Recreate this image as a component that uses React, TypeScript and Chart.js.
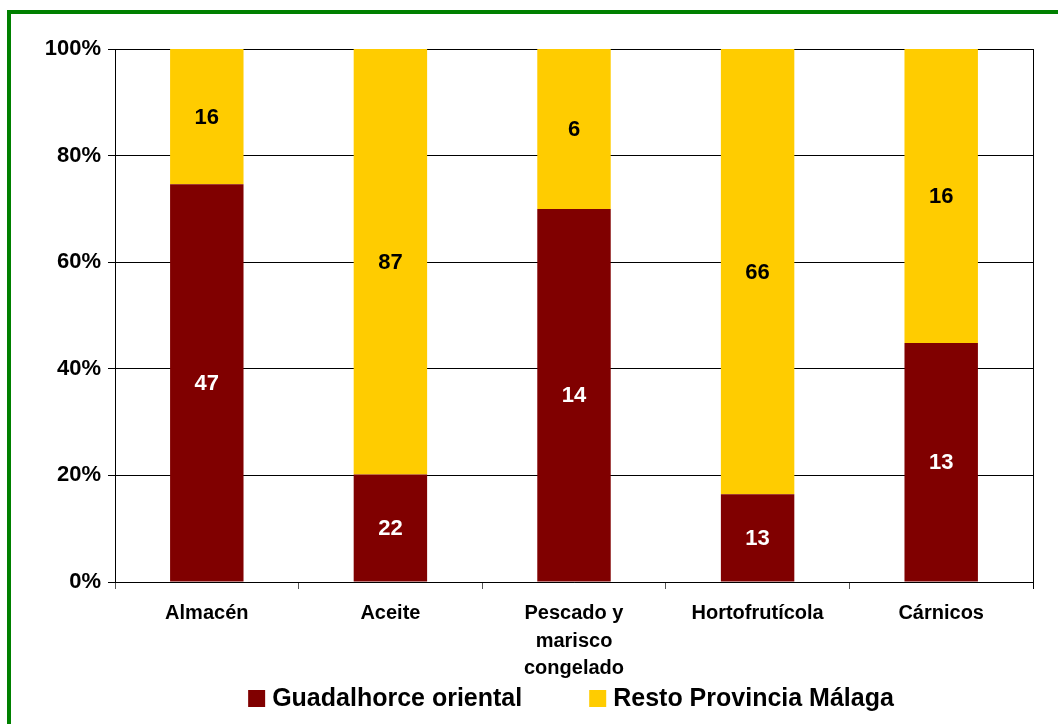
import React, { useEffect, useRef } from "react";
import { Chart, registerables } from "chart.js";
Chart.register(...registerables);

const categories: (string | string[])[] = [
  "Almacén",
  "Aceite",
  ["Pescado y", "marisco", "congelado"],
  "Hortofrutícola",
  "Cárnicos",
];
const guadalhorceOriental = [47, 22, 14, 13, 13];
const restoProvincia = [16, 87, 6, 66, 16];
const seriesNames = ["Guadalhorce oriental", "Resto Provincia Málaga"];
const seriesColors = ["#800000", "#FFCC00"];
const labelColors = ["#FFFFFF", "#000000"];
const yTickStep = 20;

const FONT = "'Liberation Sans', Arial, Helvetica, sans-serif";

const totals = guadalhorceOriental.map((v, i) => v + restoProvincia[i]);
const pct = (arr: number[]) => arr.map((v, i) => (v / totals[i]) * 100);

const valueLabelPlugin = {
  id: "valueLabels",
  afterDatasetsDraw(chart: any) {
    const ctx = chart.ctx;
    ctx.save();
    ctx.font = `bold 22px ${FONT}`;
    ctx.textAlign = "center";
    ctx.textBaseline = "middle";
    chart.data.datasets.forEach((ds: any, di: number) => {
      const meta = chart.getDatasetMeta(di);
      meta.data.forEach((bar: any, i: number) => {
        const y = (bar.y + bar.base) / 2;
        ctx.fillStyle = ds.valueColor;
        ctx.fillText(String(ds.rawValues[i]), bar.x, y + 1);
      });
    });
    ctx.restore();
  },
};

const frameAndLegendPlugin = {
  id: "frameLegend",
  afterDraw(chart: any) {
    const ctx = chart.ctx;
    const ca = chart.chartArea;
    ctx.save();
    ctx.strokeStyle = "#000";
    ctx.lineWidth = 1;
    ctx.beginPath();
    ctx.moveTo(Math.round(ca.right) + 0.5, ca.top);
    ctx.lineTo(Math.round(ca.right) + 0.5, ca.bottom + 7);
    ctx.stroke();
    ctx.font = `bold 25px ${FONT}`;
    ctx.textBaseline = "middle";
    ctx.textAlign = "left";
    const box = 17;
    const gapText = 7;
    const gapItems = 67;
    const ds = chart.data.datasets;
    const widths = ds.map((d: any) => ctx.measureText(d.label).width);
    let total = 0;
    widths.forEach((w: number, i: number) => {
      total += box + gapText + w + (i < widths.length - 1 ? gapItems : 0);
    });
    const center = (ca.left + ca.right) / 2 - 3;
    let x = center - total / 2;
    const yc = 698.5;
    ds.forEach((d: any, i: number) => {
      ctx.fillStyle = d.backgroundColor;
      ctx.fillRect(x, yc - box / 2, box, box);
      ctx.fillStyle = "#000";
      ctx.fillText(d.label, x + box + gapText, yc + 1);
      x += box + gapText + widths[i] + gapItems;
    });
    ctx.restore();
  },
};

export default function App() {
  const ref = useRef<HTMLCanvasElement | null>(null);
  useEffect(() => {
    if (!ref.current) return;
    const chart = new Chart(ref.current, {
      type: "bar",
      data: {
        labels: categories as any,
        datasets: [
          {
            label: seriesNames[0],
            data: pct(guadalhorceOriental),
            backgroundColor: seriesColors[0],
            rawValues: guadalhorceOriental,
            valueColor: labelColors[0],
            barPercentage: 0.4,
            categoryPercentage: 1,
          } as any,
          {
            label: seriesNames[1],
            data: pct(restoProvincia),
            backgroundColor: seriesColors[1],
            rawValues: restoProvincia,
            valueColor: labelColors[1],
            barPercentage: 0.4,
            categoryPercentage: 1,
          } as any,
        ],
      },
      options: {
        responsive: false,
        animation: false,
        layout: { padding: { left: 0, top: 49, right: 25, bottom: 42 } },
        plugins: {
          legend: { display: false },
          tooltip: { enabled: false },
        },
        scales: {
          x: {
            stacked: true,
            afterFit: (s: any) => {
              s.height = 100;
            },
            grid: {
              display: true,
              drawOnChartArea: false,
              offset: true,
              tickLength: 7,
              color: "#555",
            },
            border: { display: true, color: "#000", width: 1 },
            ticks: {
              color: "#000",
              padding: 11,
              maxRotation: 0,
              autoSkip: false,
              font: { family: FONT, size: 20, weight: "bold", lineHeight: 1.37 },
            },
          },
          y: {
            stacked: true,
            min: 0,
            max: 100,
            afterFit: (s: any) => {
              s.width = 115;
            },
            grid: { color: "#000", lineWidth: 1, tickLength: 7 },
            border: { display: true, color: "#000", width: 1 },
            ticks: {
              stepSize: yTickStep,
              color: "#000",
              padding: 7,
              font: { family: FONT, size: 22, weight: "bold" },
              callback: (v: any) => `${v}%`,
            },
          },
        },
      } as any,
      plugins: [valueLabelPlugin, frameAndLegendPlugin],
    });
    return () => chart.destroy();
  }, []);

  return (
    <div
      style={{
        position: "fixed",
        left: 0,
        top: 0,
        width: 1058,
        height: 724,
        overflow: "hidden",
        background: "#fff",
      }}
    >
      <canvas
        ref={ref}
        width={1058}
        height={724}
        style={{ position: "absolute", left: 0, top: 0, width: 1058, height: 724 }}
      />
      <div
        style={{
          position: "absolute",
          left: 7,
          top: 10,
          width: 1200,
          height: 900,
          border: "4px solid #008000",
          boxSizing: "border-box",
          pointerEvents: "none",
        }}
      />
    </div>
  );
}
